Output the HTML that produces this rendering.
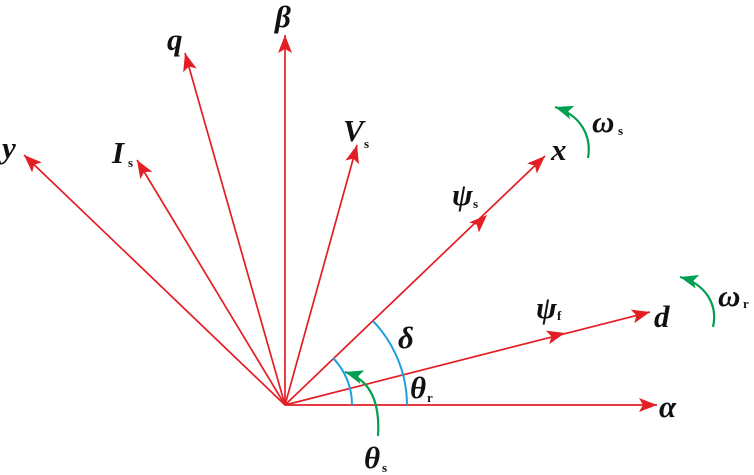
<!DOCTYPE html>
<html><head><meta charset="utf-8"><style>
html,body{margin:0;padding:0;background:#fff;}
svg{display:block;}
text{font-family:"Liberation Serif",serif;font-style:italic;font-weight:bold;fill:#111;}
.sub{font-style:normal;font-size:13px;}
</style></head><body>
<svg width="754" height="475" viewBox="0 0 754 475" xmlns="http://www.w3.org/2000/svg">
<defs>
<marker id="a" markerUnits="userSpaceOnUse" markerWidth="20" markerHeight="14" refX="18" refY="7" orient="auto"><path d="M0,0 L18,7 L0,14 L4,7 Z" fill="#e31e24"/></marker>
<marker id="g" markerUnits="userSpaceOnUse" markerWidth="20" markerHeight="14" refX="18" refY="7" orient="auto"><path d="M0,0 L18,7 L0,14 L4,7 Z" fill="#00a050"/></marker>
</defs>
<g stroke="#e31e24" stroke-width="1.7" fill="none">
<line x1="285" y1="405" x2="657" y2="405" marker-end="url(#a)"/>
<line x1="285" y1="405" x2="650" y2="312" marker-end="url(#a)"/>
<line x1="285" y1="405" x2="545" y2="156" marker-end="url(#a)"/>
<line x1="285" y1="405" x2="285" y2="35" marker-end="url(#a)"/>
<line x1="285" y1="405" x2="185" y2="53" marker-end="url(#a)"/>
<line x1="285" y1="405" x2="24" y2="155" marker-end="url(#a)"/>
<line x1="285" y1="405" x2="137" y2="160" marker-end="url(#a)"/>
<line x1="285" y1="405" x2="357" y2="145" marker-end="url(#a)"/>
<line x1="477" y1="224.6" x2="487" y2="215" stroke-width="0.5" marker-end="url(#a)"/>
<line x1="555" y1="335.5" x2="565" y2="333" stroke-width="0.5" marker-end="url(#a)"/>
</g>
<g stroke="#1ea0e0" stroke-width="2" fill="none">
<path d="M352,405 A67,67 0 0 0 333,358"/>
<path d="M407,405 A122,122 0 0 0 373,321"/>
</g>
<g stroke="#00a050" stroke-width="2.2" fill="none">
<path d="M378,436 C380,405 372,380 345,372" marker-end="url(#g)"/>
<path d="M588,158 C592,135 580,115 555,107" marker-end="url(#g)"/>
<path d="M713,327 C718,305 706,284 680,277" marker-end="url(#g)"/>
</g>
<g font-size="31">
<text x="659" y="417">α</text>
<text x="654" y="327">d</text>
<text x="551" y="160">x</text>
<text x="275" y="27">β</text>
<text x="167" y="50">q</text>
<text x="2" y="158">y</text>
<text x="112" y="163">I</text><text class="sub" x="128" y="167">s</text>
<text x="343" y="141">V</text><text class="sub" x="364" y="148">s</text>
<text x="452" y="205">ψ</text><text class="sub" x="473" y="208">s</text>
<text x="536" y="318">ψ</text><text class="sub" x="557" y="320">f</text>
<text x="592" y="132">ω</text><text class="sub" x="618" y="135">s</text>
<text x="718" y="306">ω</text><text class="sub" x="743" y="308">r</text>
<text x="398" y="348">δ</text>
<text x="410" y="398">θ</text><text class="sub" x="427" y="402">r</text>
<text x="364" y="468">θ</text><text class="sub" x="382" y="472">s</text>
</g>
</svg>
</body></html>
